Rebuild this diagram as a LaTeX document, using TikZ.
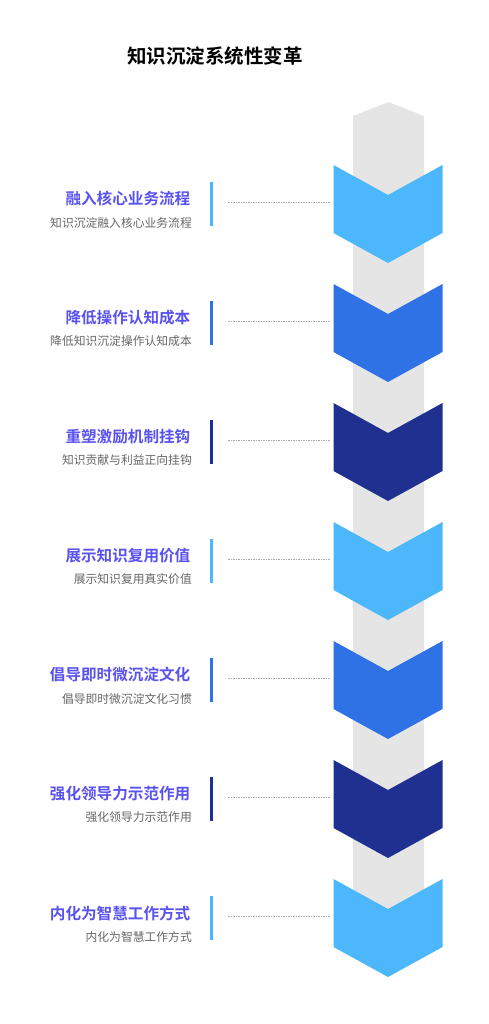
\documentclass[tikz,border=0pt]{standalone}
\usepackage{fontspec}
\setmainfont{Noto Sans CJK SC}
\newfontfamily\cjk{Noto Sans CJK SC}
\newfontfamily\cjkbold{Noto Sans CJK SC Bold}
\definecolor{cLight}{HTML}{4DB7FB}
\definecolor{cMid}{HTML}{2E72E6}
\definecolor{cDark}{HTML}{1F3091}
\definecolor{cHead}{HTML}{5A52EE}
\definecolor{cSub}{HTML}{666666}
\definecolor{cGrey}{HTML}{E5E5E5}
\tikzset{
  titletext/.style={font=\cjkbold\fontsize{19.5}{22}\selectfont, text=black, inner sep=0pt},
  headtext/.style={font=\cjkbold\fontsize{15.6}{18}\selectfont, text=cHead, inner sep=0pt, anchor=east},
  subtext/.style={font=\cjk\fontsize{11.8}{14}\selectfont, text=cSub, inner sep=0pt, anchor=east},
  barline/.style={line width=3pt},
  leader/.style={draw=gray!65, line width=0.6pt, dash pattern=on 1.5pt off 1pt},
}
\begin{document}
\begin{tikzpicture}[x=1pt,y=-1pt]
\useasboundingbox (0,0) rectangle (489,1024);
% grey column
\fill[cGrey] (353,930) -- (353,116) -- (388.5,102) -- (424,116) -- (424,930) -- cycle;
\node[titletext] (title) at (215,56) {知识沉淀系统性变革};
\foreach \i/\col/\h/\s in {
  0/cLight/融入核心业务流程/知识沉淀融入核心业务流程,
  1/cMid/降低操作认知成本/降低知识沉淀操作认知成本,
  2/cDark/重塑激励机制挂钩/知识贡献与利益正向挂钩,
  3/cLight/展示知识复用价值/展示知识复用真实价值,
  4/cMid/倡导即时微沉淀文化/倡导即时微沉淀文化习惯,
  5/cDark/强化领导力示范作用/强化领导力示范作用,
  6/cLight/内化为智慧工作方式/内化为智慧工作方式}{
  \pgfmathsetmacro{\t}{165+119*\i}
  \fill[\col] (333.5,\t) -- (388,\t+30) -- (442.5,\t) -- (442.5,\t+68) -- (388,\t+98) -- (333.5,\t+68) -- cycle;
  \coordinate (chev\i) at (330,\t+37);
  \node[headtext] (head\i) at (190.5,\t+34) {\h};
  \node[subtext] (sub\i) at (192,\t+57.5) {\s};
  \coordinate (bart\i) at (211.5,\t+17);
  \coordinate (barb\i) at (211.5,\t+61);
  \draw[barline,\col] (bart\i) -- (barb\i);
  \coordinate (lead\i) at (228,\t+37);
  \draw[leader] (lead\i) -- (chev\i);
}
\end{tikzpicture}
\end{document}
